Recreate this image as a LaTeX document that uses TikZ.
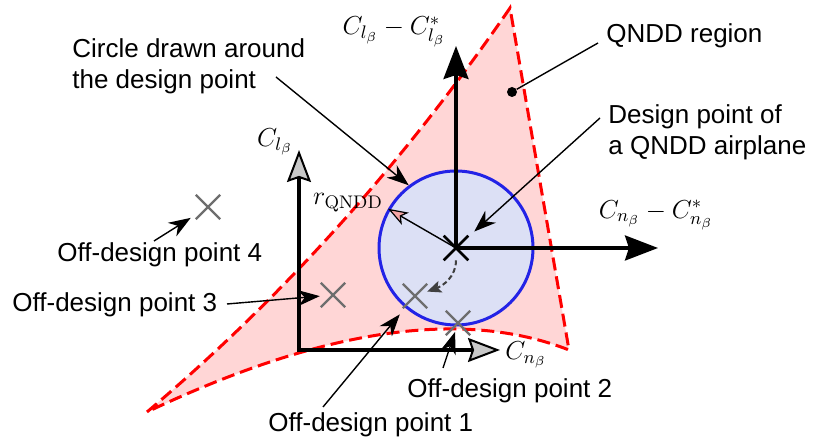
\RequirePackage{fix-cm}
\documentclass[tikz,border=0pt]{standalone}
\usepackage{fontspec}
\usepackage{amssymb}
\usetikzlibrary{arrows.meta}
\usetikzlibrary{shapes.misc}
\newfontfamily\labelfont{Liberation Sans}
\definecolor{regionfill}{RGB}{255,214,214}
\definecolor{circlefill}{RGB}{220,224,245}
\definecolor{circleline}{RGB}{35,35,230}
\definecolor{offgray}{RGB}{110,110,110}
\definecolor{tipgray}{RGB}{200,200,200}
\definecolor{tippink}{RGB}{245,165,165}
\tikzset{
    txt/.style={ font=\labelfont\fontsize{13}{15.5}\selectfont, inner sep=0 },
    mth/.style={ font=\fontsize{13}{15.5}\selectfont, inner sep=0 },
    region/.style={ fill=regionfill, draw=red, line width=1.5pt, dash pattern=on 6.5pt off 3pt },
    qcircle/.style={ circle, fill=circlefill, draw=circleline, line width=1.5pt, minimum size=77pt, inner sep=0 },
    callout/.style={ line width=0.7pt, -{Stealth[length=11pt, width=8pt, inset=3.5pt]} },
    bigaxis/.style={ line width=1.6pt, -{Stealth[length=16.5pt, width=12.5pt, inset=2pt]} },
    smallaxis/.style={
        line width=1.6pt,
        {Stealth[length=16pt, width=12pt, inset=2pt, fill=tipgray, line width=1pt]}-{Stealth[length=16pt, width=12pt, inset=2pt, fill=tipgray, line width=1pt]}
    },
    radarrow/.style={ line width=0.7pt, -{Stealth[length=10pt, width=7pt, inset=2.5pt, fill=tippink, line width=0.6pt]} },
    shiftarrow/.style={ line width=1pt, draw=black!75, dash pattern=on 2.5pt off 1.5pt, -{Stealth[length=7pt, width=6pt, inset=1.5pt]} },
    offpoint/.style={ cross out, draw=offgray, line width=1.2pt, minimum size=11pt, inner sep=0 },
    designpoint/.style={ cross out, draw=black, line width=1.3pt, minimum size=11pt, inner sep=0 },
    dot/.style={ circle, fill=black, minimum size=5pt, inner sep=0 }
}

\begin{document}
\begin{tikzpicture}[ x=0.5pt, y=0.5pt ]

	\useasboundingbox (0,0) rectangle (813,442);

	% QNDD region
	\coordinate (bl) at (147,30);
	\coordinate (tp) at (510,434);
	\coordinate (br) at (569,92);
	\filldraw[ region ] (bl) .. controls (283,145) and (404,280) .. (tp) -- (br) .. controls (462,134) and (322,113) .. (bl) -- cycle;

	% circle around the design point
	\coordinate (D) at (456,194);
	\node[ qcircle ] (qc) at (D) {};
	\node[ designpoint ] (dp) at (D) {};

	% axes
	\coordinate (ytip) at (456,396);
	\coordinate (xtip) at (658,194);
	\draw[ bigaxis ] (dp.center) -- (ytip);
	\draw[ bigaxis ] (dp.center) -- (xtip);
	\node[ mth ] (ylbl) at (394,410) {$C_{l_\beta} - C^*_{l_\beta}$};
	\node[ mth ] (xlbl) at (656,227) {$C_{n_\beta} - C^*_{n_\beta}$};

	\coordinate (O) at (299,92);
	\coordinate (oy) at (299,292);
	\coordinate (ox) at (500,92);
	\draw[ smallaxis ] (oy) -- (O) -- (ox);
	\node[ mth ] (oylbl) at (275,300) {$C_{l_\beta}$};
	\node[ mth ] (oxlbl) at (526,87) {$C_{n_\beta}$};

	\draw[ radarrow ] (dp.center) -- (qc.150);
	\node[ mth ] (rlbl) at (348,239) {$r_{\mathrm{QNDD}}$};

	% off-design points
	\node[ offpoint ] (p1) at (415,146) {};
	\node[ offpoint ] (p2) at (458,119) {};
	\node[ offpoint ] (p3) at (333,147) {};
	\node[ offpoint ] (p4) at (208,235) {};
	\draw[ shiftarrow ] (dp) to[ out=-90, in=20 ] (p1);

	\node[ dot ] (rdot) at (512,350) {};

	% labels
	\node[ txt, anchor=north west, align=left ] (ctext) at (72,403.5) {Circle drawn around\\the design point};
	\node[ txt, anchor=base west ] (qtext) at (606,399) {QNDD region};
	\node[ txt, anchor=north west, align=left ] (dtext) at (608,338) {Design point of\\a QNDD airplane};
	\node[ txt, anchor=base west ] (t4) at (57,180) {Off-design point 4};
	\node[ txt, anchor=base west ] (t3) at (12,130) {Off-design point 3};
	\node[ txt, anchor=base west ] (t1) at (268,10) {Off-design point 1};
	\node[ txt, anchor=base west ] (t2) at (407,44) {Off-design point 2};

	\coordinate (ctail) at (276,365);
	\coordinate (qtail) at (598,399);
	\coordinate (dtail) at (600,324);
	\coordinate (tail4) at (154,201);
	\coordinate (tail3) at (227,138);
	\coordinate (tail1) at (323,35);
	\coordinate (tail2) at (443,74);

	\draw[ callout ] (ctail) -- (qc.127);
	\draw[ line width=0.7pt ] (qtail) -- (rdot);
	\draw[ callout, shorten >=4pt ] (dtail) -- (dp);
	\draw[ callout, shorten >=3pt ] (tail4) -- (p4);
	\draw[ callout, shorten >=0.5pt ] (tail3) -- (p3);
	\draw[ callout, shorten >=4pt ] (tail1) -- (p1);
	\draw[ callout, shorten >=4.7pt ] (tail2) -- (p2.center);

\end{tikzpicture}
\end{document}
